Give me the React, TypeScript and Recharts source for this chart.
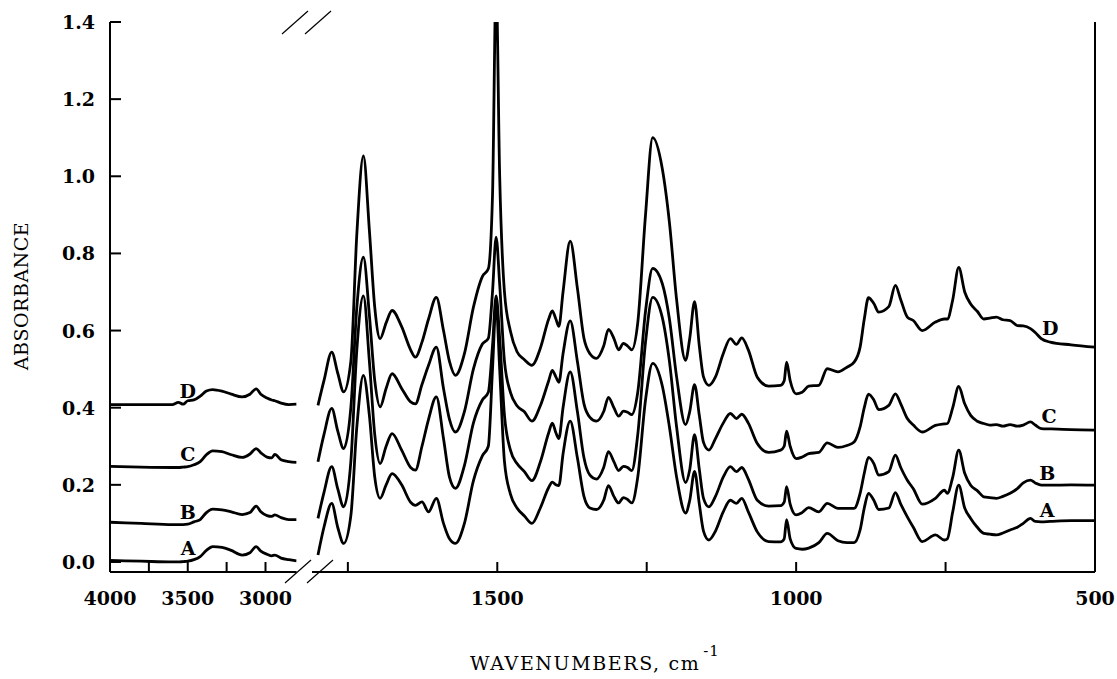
import React from "react"
import { LineChart, Line, XAxis, YAxis, ReferenceLine, ReferenceDot } from "recharts"

// left panel (O-H / C-H region), wavenumbers in cm-1
const leftWn = [4000, 3800, 3600, 3560, 3530, 3500, 3460, 3420, 3380, 3340, 3280, 3220, 3150, 3100, 3060, 3030, 2990, 2960, 2940, 2900, 2850, 2800]
const leftA = [0.004, 0.002, 0.0, 0.0, 0.001, 0.002, 0.006, 0.014, 0.03, 0.04, 0.038, 0.03, 0.018, 0.024, 0.04, 0.028, 0.02, 0.016, 0.018, 0.01, 0.006, 0.003]
const leftB = [0.103, 0.1, 0.097, 0.097, 0.097, 0.098, 0.104, 0.11, 0.128, 0.137, 0.135, 0.13, 0.123, 0.128, 0.145, 0.13, 0.12, 0.118, 0.122, 0.115, 0.11, 0.11]
const leftC = [0.248, 0.246, 0.245, 0.245, 0.246, 0.247, 0.252, 0.26, 0.278, 0.288, 0.286, 0.278, 0.271, 0.28, 0.294, 0.283, 0.272, 0.27, 0.279, 0.265, 0.26, 0.258]
const leftD = [0.408, 0.408, 0.408, 0.414, 0.409, 0.418, 0.42, 0.43, 0.443, 0.447, 0.443, 0.435, 0.428, 0.435, 0.449, 0.435, 0.425, 0.42, 0.418, 0.412, 0.408, 0.409]

// right panel (fingerprint region)
const rightWn = [
  1800, 1790, 1777, 1767, 1757, 1745, 1735, 1724, 1714, 1705,
  1696, 1686, 1676, 1660, 1645, 1637, 1626, 1615, 1602, 1590,
  1580, 1570, 1555, 1540, 1525, 1515, 1508, 1502, 1496, 1488,
  1478, 1467, 1455, 1442, 1428, 1414, 1408, 1402, 1397, 1390,
  1378, 1366, 1355, 1345, 1334, 1322, 1314, 1305, 1297, 1289,
  1282, 1275, 1265, 1252, 1240, 1224, 1212, 1200, 1185, 1178,
  1170, 1162, 1155, 1146, 1135, 1122, 1110, 1100, 1091, 1080,
  1065, 1046, 1026, 1020, 1016, 1010, 1000, 990, 979, 962,
  948, 930, 915, 903, 893, 886, 879, 870, 862, 845,
  834, 825, 814, 804, 789, 767, 752, 747, 738, 728,
  718, 708, 697, 686, 676, 665, 654, 642, 630, 620,
  608, 600, 590, 575, 540, 500
]
const rightD = [
  0.406, 0.47, 0.544, 0.49, 0.441, 0.52, 0.85, 1.053, 0.86, 0.66,
  0.579, 0.62, 0.652, 0.61, 0.55, 0.531, 0.57, 0.63, 0.686, 0.6,
  0.52, 0.484, 0.54, 0.66, 0.74, 0.76, 0.95, 1.5, 1.0, 0.7,
  0.598, 0.545, 0.525, 0.51, 0.554, 0.63, 0.651, 0.63, 0.611, 0.7,
  0.832, 0.71, 0.58, 0.54, 0.528, 0.56, 0.603, 0.58, 0.55, 0.567,
  0.56, 0.55, 0.62, 0.9, 1.1, 1.02, 0.88, 0.68, 0.523, 0.58,
  0.675, 0.56, 0.48, 0.458, 0.48, 0.54, 0.579, 0.564, 0.581, 0.55,
  0.479, 0.456, 0.458, 0.47, 0.518, 0.47, 0.436, 0.44, 0.456, 0.458,
  0.501, 0.493, 0.505, 0.518, 0.557, 0.63, 0.685, 0.67, 0.648, 0.662,
  0.717, 0.68, 0.635, 0.626, 0.6, 0.622, 0.63, 0.63, 0.68, 0.764,
  0.7, 0.669, 0.65, 0.63, 0.632, 0.635, 0.628, 0.626, 0.613, 0.612,
  0.605, 0.595, 0.579, 0.57, 0.563, 0.557
]
const rightC = [
  0.26, 0.33, 0.398, 0.34, 0.294, 0.4, 0.66, 0.79, 0.64, 0.47,
  0.402, 0.45, 0.488, 0.45, 0.415, 0.41, 0.46, 0.51, 0.557, 0.45,
  0.37, 0.337, 0.39, 0.5, 0.565, 0.58, 0.7, 0.842, 0.72, 0.52,
  0.44, 0.405, 0.39, 0.365, 0.405, 0.47, 0.497, 0.48, 0.466, 0.54,
  0.625, 0.52, 0.41, 0.375, 0.365, 0.39, 0.427, 0.4, 0.378, 0.391,
  0.388, 0.382, 0.44, 0.65, 0.761, 0.722, 0.63, 0.48, 0.356, 0.39,
  0.46, 0.38, 0.31, 0.29, 0.32, 0.36, 0.385, 0.372, 0.383, 0.36,
  0.307, 0.284, 0.29, 0.3, 0.339, 0.3, 0.268, 0.272, 0.281, 0.284,
  0.309, 0.297, 0.302, 0.311, 0.35, 0.4, 0.435, 0.42, 0.395, 0.406,
  0.436, 0.41, 0.372, 0.355, 0.337, 0.354, 0.358, 0.359, 0.4, 0.455,
  0.41, 0.38, 0.365, 0.359, 0.355, 0.356, 0.352, 0.356, 0.352, 0.355,
  0.363, 0.355, 0.346, 0.345, 0.343, 0.342
]
const rightB = [
  0.113, 0.18, 0.247, 0.19, 0.143, 0.26, 0.55, 0.69, 0.52, 0.33,
  0.255, 0.3, 0.333, 0.29, 0.245, 0.238, 0.3, 0.37, 0.428, 0.32,
  0.22, 0.191, 0.25, 0.36, 0.42, 0.44, 0.56, 0.69, 0.58, 0.38,
  0.29, 0.255, 0.235, 0.211, 0.259, 0.335, 0.36, 0.335, 0.32, 0.4,
  0.493, 0.39, 0.27, 0.225, 0.215, 0.245, 0.286, 0.26, 0.237, 0.248,
  0.245, 0.237, 0.33, 0.57, 0.686, 0.634, 0.52, 0.35, 0.206, 0.24,
  0.33, 0.24, 0.165, 0.143, 0.17, 0.22, 0.247, 0.234, 0.245, 0.215,
  0.16, 0.145, 0.146, 0.155, 0.195, 0.15, 0.122, 0.128, 0.141, 0.13,
  0.152, 0.139, 0.139, 0.139, 0.178, 0.23, 0.271, 0.255, 0.225, 0.234,
  0.277, 0.245, 0.212, 0.19, 0.15, 0.165, 0.186, 0.178, 0.22, 0.29,
  0.23, 0.199, 0.185, 0.169, 0.167, 0.165, 0.17, 0.178, 0.19, 0.205,
  0.212, 0.205, 0.199, 0.199, 0.2, 0.199
]
const rightA = [
  0.018, 0.09, 0.152, 0.09, 0.048, 0.12, 0.35, 0.484, 0.38, 0.22,
  0.165, 0.2, 0.229, 0.2, 0.155, 0.147, 0.156, 0.13, 0.165, 0.1,
  0.06, 0.048, 0.1, 0.21, 0.275, 0.3, 0.5, 0.67, 0.5, 0.26,
  0.176, 0.14, 0.12, 0.1, 0.14, 0.193, 0.207, 0.2, 0.198, 0.28,
  0.365, 0.27, 0.17, 0.14, 0.136, 0.16, 0.198, 0.17, 0.153, 0.167,
  0.162, 0.153, 0.22, 0.42, 0.515, 0.457, 0.35, 0.22, 0.127, 0.16,
  0.235, 0.15, 0.08, 0.057, 0.08, 0.13, 0.16, 0.152, 0.165, 0.13,
  0.078, 0.053, 0.052, 0.06, 0.11, 0.06, 0.035, 0.033, 0.036, 0.05,
  0.074, 0.055, 0.05, 0.05, 0.083, 0.14, 0.178, 0.16, 0.136, 0.14,
  0.18, 0.15, 0.117, 0.09, 0.053, 0.07, 0.057, 0.06, 0.13, 0.199,
  0.14, 0.113, 0.09, 0.074, 0.072, 0.07, 0.075, 0.083, 0.09, 0.1,
  0.113, 0.105, 0.104, 0.105, 0.107, 0.107
]

const seriesNames = ["A", "B", "C", "D"]
const yTicks = [0, 0.2, 0.4, 0.6, 0.8, 1.0, 1.2, 1.4]
const leftTicks = [4000, 3750, 3500, 3250, 3000]
const leftTopTicks = [3500, 3000]
const rightTicks = [1750, 1500, 1250, 1000, 750, 500]

const FONT = "'DejaVu Serif', serif"
const Y_DOMAIN: [number, number] = [-0.026, 1.4]

const leftData = leftWn.map((w, i) => ({ w, A: leftA[i], B: leftB[i], C: leftC[i], D: leftD[i] }))
const rightData = rightWn.map((w, i) => ({ w, A: rightA[i], B: rightB[i], C: rightC[i], D: rightD[i] }))

// curve label spots (wavenumber, absorbance)
const leftLabels = [
  { name: "A", w: 3497, v: 0.036 },
  { name: "B", w: 3500, v: 0.13 },
  { name: "C", w: 3500, v: 0.28 },
  { name: "D", w: 3500, v: 0.442 }
]
const rightLabels = [
  { name: "A", w: 580, v: 0.135 },
  { name: "B", w: 580, v: 0.23 },
  { name: "C", w: 577, v: 0.377 },
  { name: "D", w: 575, v: 0.606 }
]

const BottomTick = (props: any) => {
  const { x, y, payload } = props
  const v = payload.value
  return (
    <g>
      <line x1={x} x2={x} y1={y} y2={y - 10} stroke="#000" strokeWidth={2} />
      {v % 500 === 0 && (
        <text x={x} y={y + 33} textAnchor="middle" fontFamily={FONT} fontWeight="bold" fontSize={19} fill="#000">
          {v}
        </text>
      )}
    </g>
  )
}

const TopTick = (props: any) => {
  const { x, y } = props
  return <line x1={x} x2={x} y1={y} y2={y + 11} stroke="#000" strokeWidth={2} />
}

const LeftTick = (props: any) => {
  const { x, y, payload } = props
  return (
    <g>
      <line x1={x} x2={x + 11} y1={y} y2={y} stroke="#000" strokeWidth={2} />
      <text x={x - 15} y={y + 7} textAnchor="end" fontFamily={FONT} fontWeight="bold" fontSize={19} fill="#000">
        {Number(payload.value).toFixed(1)}
      </text>
    </g>
  )
}

const curveLabel = (name: string) => ({
  value: name,
  position: "center" as const,
  fontFamily: FONT,
  fontWeight: "bold",
  fontSize: 19,
  fill: "#000"
})

const axisLine = { stroke: "#000", strokeWidth: 2 }

export default function App() {
  return (
    <div style={{ position: "absolute", left: 0, top: 0, width: 1117, height: 679, background: "#fff" }}>
      <div style={{ position: "absolute", left: 0, top: 0 }}>
        <LineChart width={320} height={679} data={leftData} margin={{ top: 22, right: 23.4, bottom: 77, left: 50 }}>
          <XAxis
            dataKey="w"
            type="number"
            domain={[2800, 4000]}
            reversed
            allowDataOverflow
            ticks={leftTicks}
            interval={0}
            height={30}
            tickSize={0}
            tickMargin={0}
            tickLine={false}
            axisLine={axisLine}
            tick={<BottomTick />}
          />
          <XAxis
            xAxisId="top"
            orientation="top"
            dataKey="w"
            type="number"
            domain={[2800, 4000]}
            reversed
            allowDataOverflow
            ticks={leftTopTicks}
            interval={0}
            height={0}
            tickSize={0}
            tickMargin={0}
            tickLine={false}
            axisLine={axisLine}
            tick={<TopTick />}
          />
          <YAxis
            type="number"
            domain={Y_DOMAIN}
            allowDataOverflow
            ticks={yTicks}
            interval={0}
            width={60}
            tickSize={0}
            tickMargin={0}
            tickLine={false}
            axisLine={axisLine}
            tick={<LeftTick />}
          />
          {seriesNames.map((s) => (
            <Line key={s} dataKey={s} type="monotone" stroke="#000" strokeWidth={2.8} dot={false} isAnimationActive={false} />
          ))}
          {leftLabels.map((l) => (
            <ReferenceDot key={l.name} x={l.w} y={l.v} r={1} fill="none" stroke="none" label={curveLabel(l.name)} />
          ))}
        </LineChart>
      </div>
      <div style={{ position: "absolute", left: 0, top: 0 }}>
        <LineChart width={1117} height={679} data={rightData} margin={{ top: 22, right: 22, bottom: 77, left: 312 }}>
          <XAxis
            dataKey="w"
            type="number"
            domain={[500, 1810]}
            reversed
            allowDataOverflow
            ticks={rightTicks}
            interval={0}
            height={30}
            tickSize={0}
            tickMargin={0}
            tickLine={false}
            axisLine={axisLine}
            tick={<BottomTick />}
          />
          <XAxis
            xAxisId="top"
            orientation="top"
            dataKey="w"
            type="number"
            domain={[500, 1810]}
            reversed
            allowDataOverflow
            height={0}
            tick={false}
            tickLine={false}
            axisLine={axisLine}
          />
          <YAxis type="number" domain={Y_DOMAIN} allowDataOverflow hide />
          <ReferenceLine x={500} stroke="#000" strokeWidth={2} />
          {seriesNames.map((s) => (
            <Line key={s} dataKey={s} type="monotone" stroke="#000" strokeWidth={2.8} dot={false} isAnimationActive={false} />
          ))}
          {rightLabels.map((l) => (
            <ReferenceDot key={l.name} x={l.w} y={l.v} r={1} fill="none" stroke="none" label={curveLabel(l.name)} />
          ))}
        </LineChart>
      </div>
      <svg width={1117} height={679} style={{ position: "absolute", left: 0, top: 0, pointerEvents: "none" }}>
        {/* axis break marks */}
        <line x1={282} y1={34} x2={308} y2={11} stroke="#000" strokeWidth={1.2} />
        <line x1={305} y1={34} x2={331} y2={11} stroke="#000" strokeWidth={1.2} />
        <line x1={285} y1={583} x2={311} y2={560} stroke="#000" strokeWidth={1.2} />
        <line x1={307} y1={583} x2={333} y2={560} stroke="#000" strokeWidth={1.2} />
        <text
          x={28}
          y={296}
          transform="rotate(-90 28 296)"
          textAnchor="middle"
          fontFamily={FONT}
          fontSize={19}
          letterSpacing={0.5}
          fill="#000"
        >
          ABSORBANCE
        </text>
        <text x={470} y={670} fontFamily={FONT} fontSize={19} letterSpacing={1.6} fill="#000">
          WAVENUMBERS, cm
          <tspan dx={3} dy={-14} fontSize={15} letterSpacing={1}>-1</tspan>
        </text>
      </svg>
    </div>
  )
}
